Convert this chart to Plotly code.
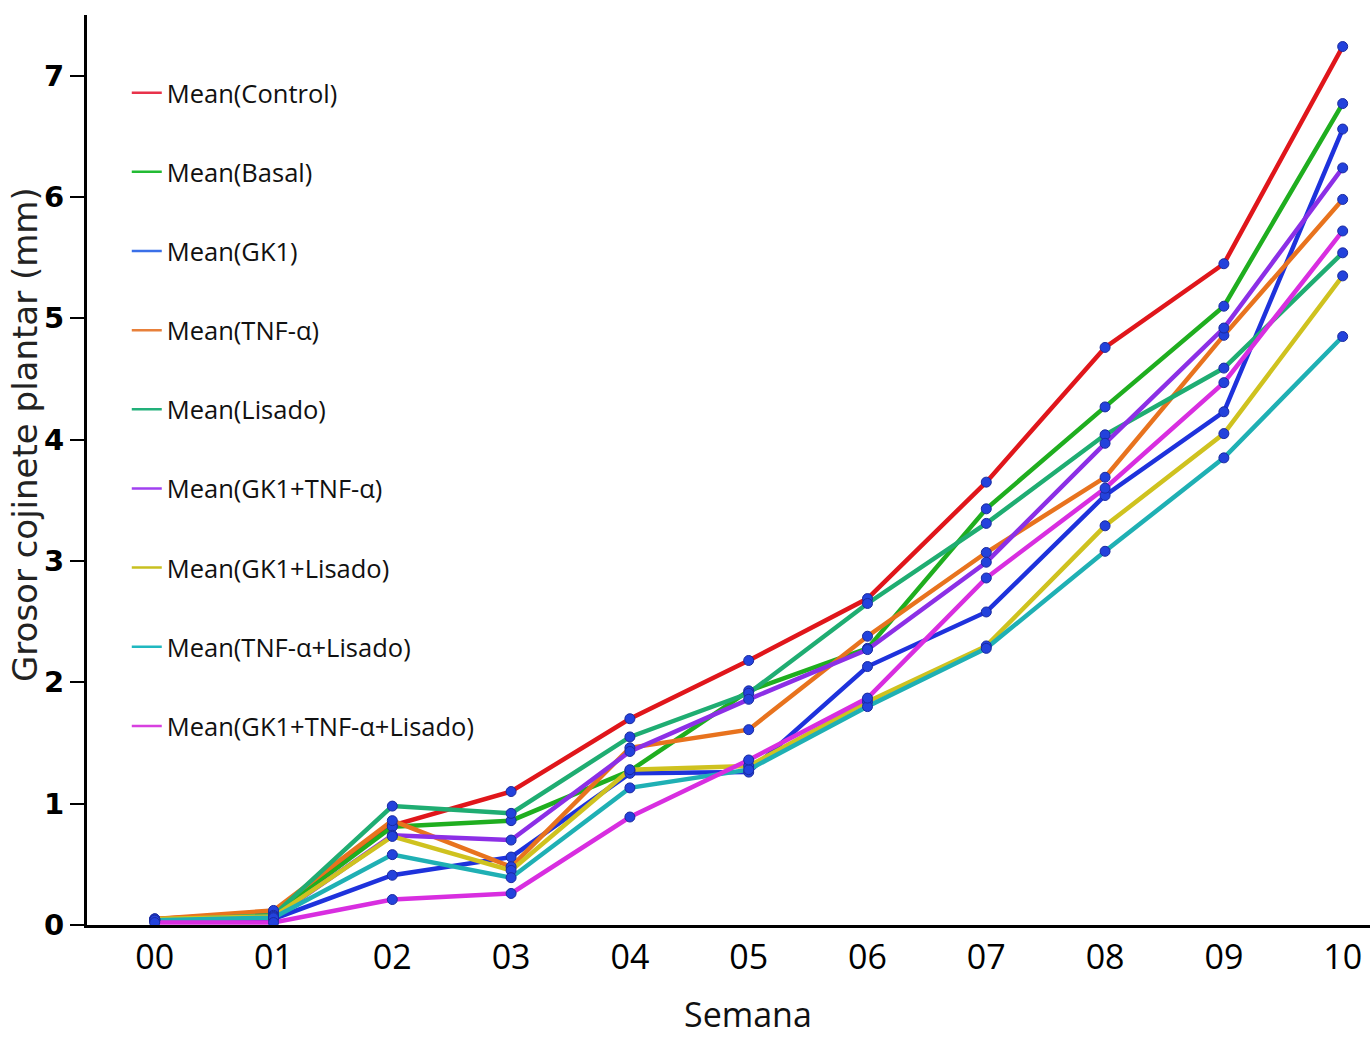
import plotly.graph_objects as go

weeks = ["00", "01", "02", "03", "04", "05", "06", "07", "08", "09", "10"]

control = [0.05, 0.10, 0.82, 1.10, 1.70, 2.18, 2.69, 3.65, 4.76, 5.45, 7.24]
basal = [0.04, 0.08, 0.81, 0.86, 1.27, 1.93, 2.28, 3.43, 4.27, 5.10, 6.77]
gk1 = [0.03, 0.05, 0.41, 0.56, 1.25, 1.26, 2.13, 2.58, 3.54, 4.23, 6.56]
tnf = [0.05, 0.12, 0.86, 0.48, 1.46, 1.61, 2.38, 3.07, 3.69, 4.86, 5.98]
lisado = [0.04, 0.08, 0.98, 0.92, 1.55, 1.91, 2.65, 3.31, 4.04, 4.59, 5.54]
gk1_tnf = [0.04, 0.06, 0.74, 0.70, 1.43, 1.86, 2.27, 2.99, 3.97, 4.92, 6.24]
gk1_lis = [0.05, 0.07, 0.73, 0.45, 1.28, 1.31, 1.84, 2.30, 3.29, 4.05, 5.35]
tnf_lis = [0.04, 0.06, 0.58, 0.39, 1.13, 1.28, 1.80, 2.28, 3.08, 3.85, 4.85]
triple = [0.02, 0.02, 0.21, 0.26, 0.89, 1.36, 1.87, 2.86, 3.60, 4.47, 5.72]

names = ["Mean(Control)", "Mean(Basal)", "Mean(GK1)", "Mean(TNF-α)", "Mean(Lisado)",
         "Mean(GK1+TNF-α)", "Mean(GK1+Lisado)", "Mean(TNF-α+Lisado)", "Mean(GK1+TNF-α+Lisado)"]
series = [control, basal, gk1, tnf, lisado, gk1_tnf, gk1_lis, tnf_lis, triple]
colors = ["#e0161b", "#1fae1f", "#1e32dc", "#e8731e", "#1fad72",
          "#8c2fe6", "#cfc21f", "#1fb0b4", "#d82ee0"]
legend_colors = ["#e8324a", "#22bb33", "#3a6fe8", "#e8803a", "#22b07a",
                 "#a040f0", "#c8c020", "#20b8c0", "#d840e0"]

x_title = "Semana"
y_title = "Grosor cojinete plantar (mm)"

fig = go.Figure()

for nm, ys, c in zip(names, series, colors):
    fig.add_trace(go.Scatter(x=weeks, y=ys, mode="lines", name=nm,
                             line=dict(color=c, width=4.5), showlegend=False))

for nm, ys in zip(names, series):
    fig.add_trace(go.Scatter(x=weeks, y=ys, mode="markers", name=nm,
                             marker=dict(color="#2342dc", size=10,
                                         line=dict(color="#1a2aa0", width=1)),
                             showlegend=False))

for i, (nm, lc) in enumerate(zip(names, legend_colors)):
    fig.add_trace(go.Scatter(x=[None], y=[None], mode="lines", name=nm,
                             line=dict(color=lc, width=2.5),
                             legendgroup="g%d" % i, showlegend=True))

fig.update_layout(
    width=1370, height=1037,
    margin=dict(l=87, r=0, t=15, b=112),
    plot_bgcolor="white", paper_bgcolor="white",
    showlegend=True,
    legend=dict(x=0.031, y=0.94, xanchor="left", yanchor="top",
                font=dict(family="Open Sans, sans-serif", size=25.5, color="#111"),
                tracegroupgap=43, bgcolor="rgba(0,0,0,0)", itemwidth=30),
    xaxis=dict(type="category", range=[-0.57, 10.23], showline=True,
               linecolor="black", linewidth=3, showgrid=False, zeroline=False,
               ticks="", tickfont=dict(family="Open Sans, sans-serif",
                                      size=34, color="black")),
    yaxis=dict(range=[0, 7.5], showline=True, linecolor="black", linewidth=3,
               showgrid=False, zeroline=False, ticks="outside", ticklen=14,
               tickwidth=2, tickcolor="black", dtick=1,
               tickfont=dict(family="DejaVu Sans, sans-serif", size=29,
                             color="black", weight="bold")),
    annotations=[
        dict(text=x_title, xref="paper", yref="paper", x=(748 - 87) / 1283,
             y=-(1014 - 925) / 910, xanchor="center", yanchor="middle",
             showarrow=False,
             font=dict(family="Open Sans, sans-serif", size=34, color="#111")),
        dict(text=y_title, xref="paper", yref="paper", x=-(87 - 25) / 1283,
             y=(925 - 435) / 910, xanchor="center", yanchor="middle",
             textangle=-90, showarrow=False,
             font=dict(family="DejaVu Sans, sans-serif", size=34, color="#222")),
    ],
)

fig.write_html("out.html")
